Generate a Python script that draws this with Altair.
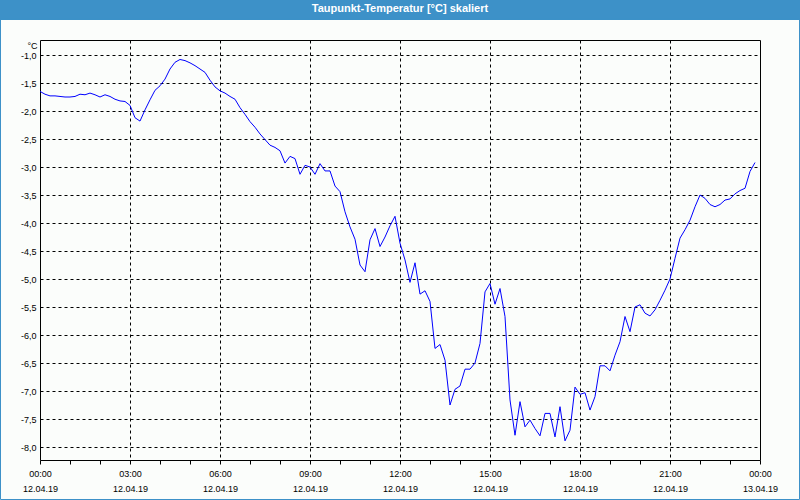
import altair as alt
import pandas as pd

TITLE = "Taupunkt-Temperatur [°C] skaliert"

# dew point values, one reading every 10 minutes from 12.04.19 00:00
values = [
    -1.65, -1.70, -1.73, -1.73, -1.74, -1.75, -1.75, -1.74, -1.70, -1.71,
    -1.68, -1.71, -1.75, -1.71, -1.74, -1.79, -1.82, -1.83, -1.90, -2.12,
    -2.18, -1.98, -1.80, -1.63, -1.55, -1.43, -1.25, -1.13, -1.08, -1.10,
    -1.14, -1.19, -1.25, -1.31, -1.45, -1.57, -1.64, -1.68, -1.74, -1.79,
    -1.94, -2.06, -2.19, -2.29, -2.41, -2.51, -2.61, -2.65, -2.71, -2.93,
    -2.81, -2.85, -3.13, -2.97, -3.00, -3.13, -2.94, -3.07, -3.07, -3.34,
    -3.44, -3.80, -4.07, -4.29, -4.75, -4.87, -4.30, -4.10, -4.42, -4.25,
    -4.05, -3.88, -4.36, -4.66, -5.06, -4.71, -5.27, -5.21, -5.40, -6.24,
    -6.17, -6.45, -7.25, -6.97, -6.91, -6.61, -6.61, -6.50, -6.15, -5.23,
    -5.08, -5.45, -5.17, -5.67, -7.16, -7.79, -7.19, -7.64, -7.52, -7.67,
    -7.80, -7.40, -7.40, -7.82, -7.28, -7.89, -7.70, -6.93, -7.06, -7.03,
    -7.34, -7.10, -6.55, -6.55, -6.64, -6.36, -6.12, -5.67, -5.94, -5.50,
    -5.46, -5.61, -5.66, -5.55, -5.38, -5.20, -5.00, -4.63, -4.27, -4.12,
    -3.95, -3.71, -3.50, -3.56, -3.67, -3.71, -3.67, -3.59, -3.57, -3.48,
    -3.42, -3.38, -3.08, -2.92,
]
step_minutes = 10
hours = [k * step_minutes / 60 for k in range(len(values))]

x_ticks = list(range(0, 25))
y_ticks = [-1.0, -1.5, -2.0, -2.5, -3.0, -3.5, -4.0, -4.5, -5.0, -5.5,
           -6.0, -6.5, -7.0, -7.5, -8.0]
y_domain = [-8.232, -0.732]
day1, day2 = "12.04.19", "13.04.19"

df = pd.DataFrame({"h": hours, "v": values})

FONT = "Liberation Sans"
W, H = 720, 420
BLUE = "#3d91c8"

x_label_expr = (
    "datum.value % 3 === 0 ? ["
    "(datum.value % 24 < 10 ? '0' : '') + (datum.value % 24) + ':00', "
    f"datum.value < 24 ? '{day1}' : '{day2}'] : ''"
)
y_label_expr = (
    "replace(replace(format(datum.value, '.1f'), '.', ','), '\u2212', '-')"
)

line = alt.Chart(df).mark_line(color="#0000ff", strokeWidth=1).encode(
    x=alt.X(
        "h:Q",
        scale=alt.Scale(domain=[0, 24], nice=False, zero=False),
        axis=alt.Axis(
            values=x_ticks,
            labelExpr=x_label_expr,
            grid=True,
            gridDash=[3, 3],
            gridColor="black",
            gridOpacity={
                "condition": {
                    "test": "datum.value % 3 === 0 && datum.value > 0 && datum.value < 24",
                    "value": 1,
                },
                "value": 0,
            },
            domain=False,
            ticks=True,
            tickSize=4,
            tickColor="black",
            labelFont=FONT,
            labelFontSize=9,
            labelColor="black",
            labelLineHeight=15,
            labelPadding=5,
            labelFlush=False,
            labelOverlap=False,
            title=None,
        ),
    ),
    y=alt.Y(
        "v:Q",
        scale=alt.Scale(domain=y_domain, nice=False, zero=False),
        axis=alt.Axis(
            values=y_ticks,
            labelExpr=y_label_expr,
            grid=True,
            gridDash=[3, 3],
            gridColor="black",
            domain=False,
            ticks=False,
            tickSize=0,
            labelFont=FONT,
            labelFontSize=9,
            labelColor="black",
            labelPadding=4,
            labelOverlap=False,
            title="°C",
            titleAngle=0,
            titleAlign="right",
            titleBaseline="alphabetic",
            titleX=-3,
            titleY=8,
            titleFont=FONT,
            titleFontSize=9,
            titleFontWeight="normal",
            titleColor="black",
        ),
    ),
)

one = pd.DataFrame({"t": [TITLE]})

title_bar = alt.Chart(one).mark_rect(color=BLUE).encode(
    x=alt.value(-40), x2=alt.value(760), y=alt.value(-40), y2=alt.value(-20)
)
border = alt.Chart(one).mark_rect(fill=None, stroke=BLUE, strokeWidth=1).encode(
    x=alt.value(-39.5), x2=alt.value(759.5), y=alt.value(-21), y2=alt.value(59.5 + H - 20)
)
title_text = alt.Chart(one).mark_text(
    font=FONT, fontSize=11, fontWeight="bold", color="white",
    align="center", baseline="alphabetic",
).encode(
    x=alt.value(W / 2), y=alt.value(-28), text="t:N"
)

chart = alt.layer(title_bar, border, line, title_text).properties(
    width=W,
    height=H,
    background="#fbfdfb",
    padding={"left": 40, "top": 40, "right": 40, "bottom": 40},
    autosize=alt.AutoSizeParams(type="none"),
).configure_view(stroke="black", strokeWidth=1)

chart.save("out.html", embed_options={"renderer": "svg", "actions": False})
